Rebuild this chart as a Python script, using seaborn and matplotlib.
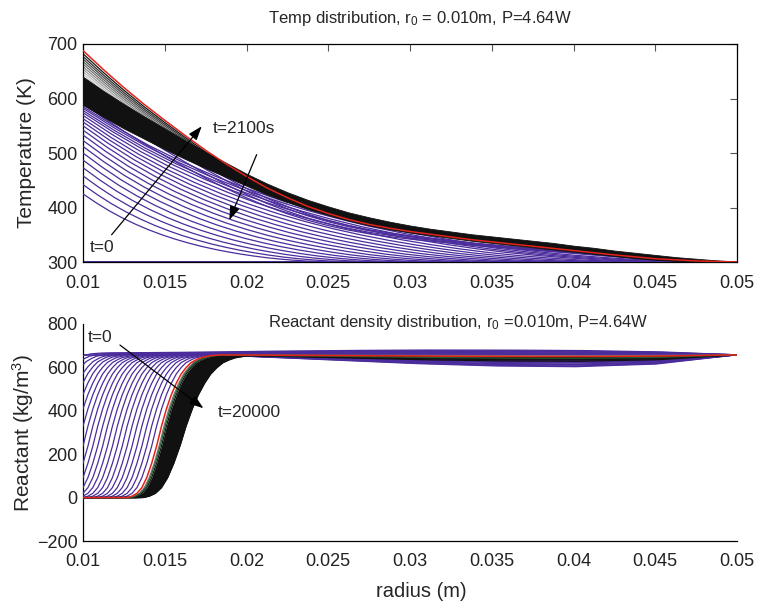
import numpy as np
import pandas as pd
import matplotlib
matplotlib.use("Agg")
import matplotlib.pyplot as plt
import seaborn as sns

# ---------------------------------------------------------------- data
# radius samples (m) shared by the tabulated temperature profiles
radius_grid = [0.01, 0.01125, 0.0125, 0.01375, 0.015, 0.01625, 0.0175, 0.01875,
               0.02, 0.02125, 0.0225, 0.02375, 0.025, 0.02625, 0.0275, 0.02875,
               0.03, 0.03125, 0.0325, 0.03375, 0.035, 0.03625, 0.0375, 0.03875,
               0.04, 0.04125, 0.0425, 0.04375, 0.045, 0.04625, 0.0475, 0.04875, 0.05]

# temperature (K)
temp_ambient = 300
temp_final = [688, 653, 620, 589, 560, 532, 505, 480, 457, 436, 418, 402, 389, 378,
              369, 362, 356, 351, 346, 341, 337, 333, 329, 325, 321, 317, 313, 309.5,
              306, 304, 302, 301, 300]
temp_band_upper = [640, 614, 590, 567, 545, 523, 502, 482, 462, 444, 428, 414, 402,
                   391, 382, 374, 367, 361, 356, 351, 347, 343, 339, 335, 330, 326,
                   321, 317, 313, 309, 306, 303, 301]
temp_band_lower = [588, 566, 545, 526, 507, 489, 472, 456, 440, 424, 410, 397, 386,
                   376, 367, 360, 354, 349, 344, 339, 335, 331, 327, 323, 319, 315,
                   311, 307, 304, 302, 301, 300, 300]

# early heating: normalised profile against fraction of heated depth
early_shape_u = [0, .05, .1, .15, .2, .25, .3, .35, .4, .45, .5, .55, .6, .65, .7,
                 .75, .8, .85, .9, .95, 1]
early_shape = [1.0, .870, .752, .648, .556, .474, .402, .338, .282, .232, .189,
               .151, .118, .089, .064, .044, .028, .015, .007, .002, 0.0]
early_peak_temp = [425, 442, 458, 473, 487, 500, 512, 523, 533, 542, 550, 557,
                   563, 569, 574, 578, 582, 585]
early_reach = [0.026, 0.0275, 0.029, 0.0305, 0.032, 0.0335, 0.035, 0.0365, 0.038,
               0.0395, 0.041, 0.0425, 0.044, 0.0455, 0.047, 0.048, 0.049, 0.05]
# later profiles as fractions of the final rise above ambient
late_fraction = [0.75, 0.79, 0.83, 0.86]
grey_fraction = [0.985, 0.972, 0.96, 0.948, 0.936, 0.924, 0.912, 0.90, 0.888]

# reactant density (kg/m^3)
density_initial = 658
front_z = [-3.5, -3, -2.5, -2, -1.5, -1, -0.5, 0, 0.5, 1, 1.5, 2, 2.5, 3, 3.5, 4, 5, 6]
front_shape = [0, .01, .03, .07, .14, .24, .36, .5, .62, .72, .80, .865, .91, .945,
               .965, .98, .995, 1]
bump_r = [0.01, 0.016, 0.02, 0.025, 0.03, 0.035, 0.04, 0.045, 0.05]
bump_down = [0, 0, 0.12, 0.42, 0.72, 0.93, 1.0, 0.78, 0]
bump_up = [0.35, 0.5, 0.7, 0.88, 1.0, 1.0, 0.92, 0.65, 0]

purple_center = [0.0075, 0.0080, 0.0084, 0.0088, 0.0091, 0.0094, 0.0097, 0.0100,
                 0.0103, 0.0106, 0.0109, 0.0112, 0.0115, 0.0118, 0.0121, 0.0124,
                 0.0127, 0.0130, 0.0133, 0.0136, 0.0139, 0.0142, 0.0145]
purple_shift = [22, 19, 16, 13, 10, 7, 4, 1, -3, -8, -13, -18, -23, -28, -33, -38,
                -43, -48, -52, -55, -45, -35, -25]
purple_width = 0.0006
black_center = [0.0151, 0.0153, 0.0155, 0.0157, 0.0159, 0.0161, 0.0163]
black_width = [0.0006, 0.00062, 0.00065, 0.00068, 0.0007, 0.00072, 0.00075]
black_shift = [-12, -18, -24, -30, -20, -14, -6]
mid_center = [0.01495, 0.01502]
mid_shift = [-4, -16]
final_center = 0.0148
final_width = 0.0006
final_shift = -8

# ---------------------------------------------------------------- style
PURPLE = "#4b2c9c"
RED = "#e3221b"
BAND = "#111111"
LW = 0.9

sns.set_theme(style="white")
plt.rcParams["font.family"] = ["Liberation Sans", "DejaVu Sans"]
plt.rcParams["mathtext.fontset"] = "custom"
plt.rcParams["mathtext.rm"] = "Liberation Sans"
plt.rcParams["mathtext.it"] = "Liberation Sans:italic"

fig = plt.figure(figsize=(7.6, 6.01), dpi=100)
ax_t = fig.add_axes([83 / 760, 1 - 262 / 601, 654 / 760, 218 / 601])
ax_d = fig.add_axes([83 / 760, 1 - 541 / 601, 654 / 760, 217 / 601])

r_grid = np.asarray(radius_grid)
t_final = np.asarray(temp_final, float)

# ---------------------------------------------------------------- temperature
ax_t.plot([0.01, 0.05], [temp_ambient, temp_ambient], color=PURPLE, lw=1.4, zorder=2)

# grey profiles, only visible above the dense band near the axis
grey_cols = sns.color_palette("Greys_r", len(grey_fraction) + 3)[:len(grey_fraction)]
keep = r_grid <= 0.0226
for frac, col in zip(grey_fraction, grey_cols):
    prof = temp_ambient + frac * (t_final - temp_ambient)
    sns.lineplot(x=r_grid[keep], y=prof[keep], color=col, lw=LW, ax=ax_t,
                 zorder=1, legend=False)

rows = []
for k, (tp, reach) in enumerate(zip(early_peak_temp, early_reach)):
    u = np.asarray(early_shape_u)
    xs = 0.01 + u * (reach - 0.01)
    ys = temp_ambient + (tp - temp_ambient) * np.asarray(early_shape)
    for x, y in zip(xs, ys):
        rows.append((k, x, y))
for j, frac in enumerate(late_fraction):
    prof = temp_ambient + frac * (t_final - temp_ambient)
    for x, y in zip(r_grid, prof):
        rows.append((100 + j, x, y))
temp_df = pd.DataFrame(rows, columns=["curve", "radius", "temperature"])
sns.lineplot(data=temp_df, x="radius", y="temperature", units="curve",
             estimator=None, sort=False, color=PURPLE, lw=LW, ax=ax_t,
             zorder=3, legend=False)

ax_t.fill_between(r_grid, temp_band_lower, temp_band_upper, color=BAND,
                  lw=0.6, edgecolor=BAND, zorder=4)
sns.lineplot(x=r_grid, y=t_final, color=RED, lw=1.1, ax=ax_t, zorder=5, legend=False)

ax_t.set_xlim(0.01, 0.05)
ax_t.set_ylim(300, 700)
ax_t.set_yticks([300, 400, 500, 600, 700])
ax_t.set_ylabel("Temperature (K)", fontsize=15)
ax_t.set_xlabel("")

# annotations
arrow_kw = dict(arrowstyle="-|>,head_length=0.7,head_width=0.25", color="black",
                lw=0.9, shrinkA=0, shrinkB=0)
ax_t.annotate("", xy=(0.01726, 549), xytext=(0.01175, 350), arrowprops=arrow_kw, zorder=6)
ax_t.annotate("", xy=(0.01895, 377), xytext=(0.02062, 497), arrowprops=arrow_kw, zorder=6)
ax_t.text(0.01795, 545, "t=2100s", fontsize=12.5, ha="left", va="center", zorder=6)
ax_t.text(0.01043, 326, "t=0", fontsize=12.5, ha="left", va="center", zorder=6)

# ---------------------------------------------------------------- density
r_fine = np.linspace(0.01, 0.05, 801)


def front(center, width, shift):
    z = (r_fine - center) / width
    s = np.interp(z, front_z, front_shape)
    table = bump_up if shift > 0 else bump_down
    return s * (density_initial + shift * np.interp(r_fine, bump_r, table))


ax_d.plot([0.01, 0.05], [density_initial, density_initial], color=PURPLE, lw=1.2, zorder=2)

rows = []
for k, (c, d) in enumerate(zip(purple_center, purple_shift)):
    for x, y in zip(r_fine, front(c, purple_width, d)):
        rows.append((k, x, y))
dens_df = pd.DataFrame(rows, columns=["curve", "radius", "density"])
sns.lineplot(data=dens_df, x="radius", y="density", units="curve", estimator=None,
             sort=False, color=PURPLE, lw=LW, ax=ax_d, zorder=3, legend=False)

first = front(black_center[0], black_width[0], black_shift[0])
last = front(black_center[-1], black_width[-1], black_shift[-1])
ax_d.fill_between(r_fine, np.minimum(first, last), np.maximum(first, last),
                  color=BAND, lw=0, zorder=4)
for c, w, d in zip(black_center, black_width, black_shift):
    sns.lineplot(x=r_fine, y=front(c, w, d), color=BAND, lw=LW, ax=ax_d, zorder=4,
                 legend=False)
for c, d, col in zip(mid_center, mid_shift, ["#7a7a7a", "#1f5c2e"]):
    sns.lineplot(x=r_fine, y=front(c, final_width, d), color=col, lw=LW, ax=ax_d,
                 zorder=5, legend=False)
sns.lineplot(x=r_fine, y=front(final_center, final_width, final_shift), color=RED,
             lw=1.1, ax=ax_d, zorder=6, legend=False)

ax_d.set_xlim(0.01, 0.05)
ax_d.set_ylim(-200, 800)
ax_d.set_yticks([-200, 0, 200, 400, 600, 800])
ax_d.set_ylabel("Reactant (kg/m$^3$)", fontsize=15)
ax_d.set_xlabel("radius (m)", fontsize=14.5)
ax_d.annotate("", xy=(0.01736, 412), xytext=(0.01226, 703), arrowprops=arrow_kw, zorder=7)
ax_d.text(0.01031, 740, "t=0", fontsize=12.5, ha="left", va="center", zorder=7)
ax_d.text(0.01826, 392, "t=20000", fontsize=12.5, ha="left", va="center", zorder=7)

# ---------------------------------------------------------------- axes cosmetics
xticks = [0.01, 0.015, 0.02, 0.025, 0.03, 0.035, 0.04, 0.045, 0.05]
xlabels = ["0.01", "0.015", "0.02", "0.025", "0.03", "0.035", "0.04", "0.045", "0.05"]
for ax in (ax_t, ax_d):
    ax.set_xticks(xticks)
    ax.set_xticklabels(xlabels)
    ax.tick_params(direction="in", length=5, width=0.8, color="#555555",
                   labelsize=13, labelcolor="#222222")
    ax.tick_params(axis="x", pad=9)
    ax.tick_params(axis="y", pad=4)
    for sp in ax.spines.values():
        sp.set_color("black")
        sp.set_linewidth(0.9)

ax_t.tick_params(top=True, right=True)
ax_d.spines["top"].set_visible(False)
ax_d.spines["right"].set_visible(False)

ax_t.yaxis.set_label_coords(-0.072, 0.5)
ax_d.yaxis.set_label_coords(-0.072, 0.5)
ax_d.xaxis.set_label_coords(0.518, -0.19)

fig.text(420 / 760, 1 - 19 / 601, "Temp distribution, r$_0$ = 0.010m, P=4.64W",
         fontsize=12, ha="center", va="center")
fig.text(458 / 760, 1 - 323 / 601,
         "Reactant density distribution, r$_0$ =0.010m, P=4.64W",
         fontsize=12, ha="center", va="center")

fig.savefig("out.png", dpi=100)
